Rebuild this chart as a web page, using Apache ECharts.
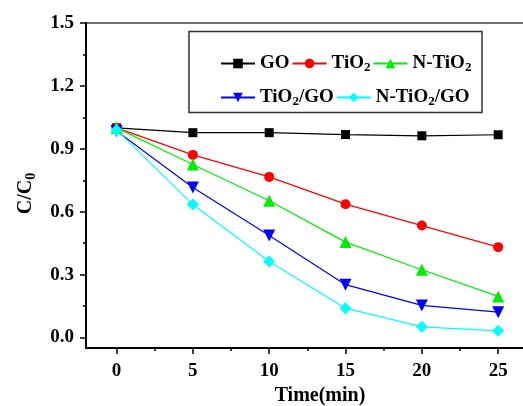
<!DOCTYPE html>
<html>
<head>
<meta charset="utf-8">
<script src="https://cdn.jsdelivr.net/npm/echarts@6/dist/echarts.min.js"></script>
<style>
  html, body { margin: 0; padding: 0; background: #fff; }
  #main { width: 523px; height: 406px; }
</style>
</head>
<body>
<div id="main"></div>
<script>
// 数据
const times = [0, 5, 10, 15, 20, 25];
const goData = [1.0, 0.977, 0.977, 0.968, 0.962, 0.967];
const tio2Data = [1.0, 0.871, 0.766, 0.636, 0.534, 0.431];
const ntio2Data = [1.0, 0.825, 0.652, 0.455, 0.323, 0.196];
const tio2goData = [0.985, 0.715, 0.487, 0.252, 0.153, 0.121];
const ntio2goData = [0.99, 0.634, 0.363, 0.14, 0.051, 0.032];

const xMajor = [0, 5, 10, 15, 20, 25];
const xMinor = [2.5, 7.5, 12.5, 17.5, 22.5, 27.5];
const yMajor = [0, 0.3, 0.6, 0.9, 1.2, 1.5];
const yMinor = [0.15, 0.45, 0.75, 1.05, 1.35];

const font = 'Liberation Serif';

const pair = (xs, ys) => xs.map((x, i) => [x, ys[i]]);

// 图例名称下标
const legendRich = {
  b: { fontFamily: font, fontWeight: 'bold', fontSize: 19, color: '#000' },
  s: { fontFamily: font, fontWeight: 'bold', fontSize: 13, color: '#000', padding: [9, 0, 0, 0] }
};
const legendFormatter = (name) => {
  const map = {
    'GO': '{b|GO}',
    'TiO2': '{b|TiO}{s|2}',
    'N-TiO2': '{b|N-TiO}{s|2}',
    'TiO2/GO': '{b|TiO}{s|2}{b|/GO}',
    'N-TiO2/GO': '{b|N-TiO}{s|2}{b|/GO}'
  };
  return map[name];
};

const legendBase = {
  orient: 'horizontal',
  padding: 0,
  itemWidth: 34,
  itemHeight: 12,
  itemGap: 2,
  formatter: legendFormatter,
  textStyle: { rich: legendRich },
  selectedMode: false
};

const mkSeries = (name, data, color, symbol, size, rotate) => ({
  name: name,
  type: 'line',
  xAxisIndex: 0,
  yAxisIndex: 0,
  data: pair(times, data),
  symbol: symbol,
  symbolSize: size,
  symbolRotate: rotate || 0,
  itemStyle: { color: color },
  lineStyle: { color: color, width: 1.2 },
  z: 3
});

const labelStyle = { fontFamily: font, fontWeight: 'bold', fontSize: 19, color: '#000' };

let chart = echarts.init(document.getElementById('main'));
let option = {
  animation: false,
  backgroundColor: '#fff',
  grid: {
    left: 86, top: 23, width: 458, height: 325,
    containLabel: false, outerBoundsMode: 'none',
    show: true, borderColor: '#444', borderWidth: 1.5
  },
  graphic: [{
    type: 'rect',
    shape: { x: 189, y: 31.5, width: 293, height: 81 },
    style: { fill: 'none', stroke: '#333', lineWidth: 1.5 },
    z: 10
  }],
  legend: [
    Object.assign({}, legendBase, { data: ['GO', 'TiO2', 'N-TiO2'], left: 220, top: 54 }),
    Object.assign({}, legendBase, { data: ['TiO2/GO', 'N-TiO2/GO'], left: 220, top: 88 })
  ],
  xAxis: [{
    type: 'value', min: -2, max: 28,
    axisLine: { show: true, onZero: false, lineStyle: { color: '#000', width: 2 } },
    axisTick: { show: true, customValues: xMajor, length: 6, lineStyle: { color: '#000', width: 1.5 } },
    axisLabel: Object.assign({ customValues: xMajor, margin: 14 }, labelStyle),
    splitLine: { show: false },
    name: 'Time(min)', nameLocation: 'middle', nameGap: 37,
    nameTextStyle: { fontFamily: font, fontWeight: 'bold', fontSize: 20, color: '#000', padding: [0, 0, 0, 10] }
  }, {
    type: 'value', min: -2, max: 28, position: 'bottom',
    axisLine: { show: false, onZero: false },
    axisTick: { show: true, customValues: xMinor, length: 3, lineStyle: { color: '#000', width: 1.5 } },
    axisLabel: { show: false },
    splitLine: { show: false }
  }],
  yAxis: [{
    type: 'value', min: -0.05, max: 1.5,
    axisLine: { show: true, onZero: false, lineStyle: { color: '#000', width: 2 } },
    axisTick: { show: true, customValues: yMajor, length: 6, lineStyle: { color: '#000', width: 1.5 } },
    axisLabel: Object.assign({ customValues: yMajor, margin: 12, formatter: v => v.toFixed(1) }, labelStyle),
    splitLine: { show: false },
    name: '{a|C/C}{s|0}', nameLocation: 'middle', nameRotate: 90, nameGap: 48,
    nameTextStyle: {
      padding: [0, 16, 0, 0],
      rich: {
        a: { fontFamily: font, fontWeight: 'bold', fontSize: 20, color: '#000' },
        s: { fontFamily: font, fontWeight: 'bold', fontSize: 14, color: '#000', padding: [10, 0, 0, 0] }
      }
    }
  }, {
    type: 'value', min: -0.05, max: 1.5, position: 'left',
    axisLine: { show: false, onZero: false },
    axisTick: { show: true, customValues: yMinor, length: 3, lineStyle: { color: '#000', width: 1.5 } },
    axisLabel: { show: false },
    splitLine: { show: false }
  }],
  series: [
    mkSeries('GO', goData, '#000000', 'rect', 9),
    mkSeries('TiO2', tio2Data, '#ff0000', 'circle', 10),
    mkSeries('N-TiO2', ntio2Data, '#00ee00', 'triangle', 12),
    mkSeries('TiO2/GO', tio2goData, '#0000ff', 'triangle', 12, 180),
    mkSeries('N-TiO2/GO', ntio2goData, '#00ffff', 'diamond', 12)
  ]
};
chart.setOption(option);
</script>
</body>
</html>
